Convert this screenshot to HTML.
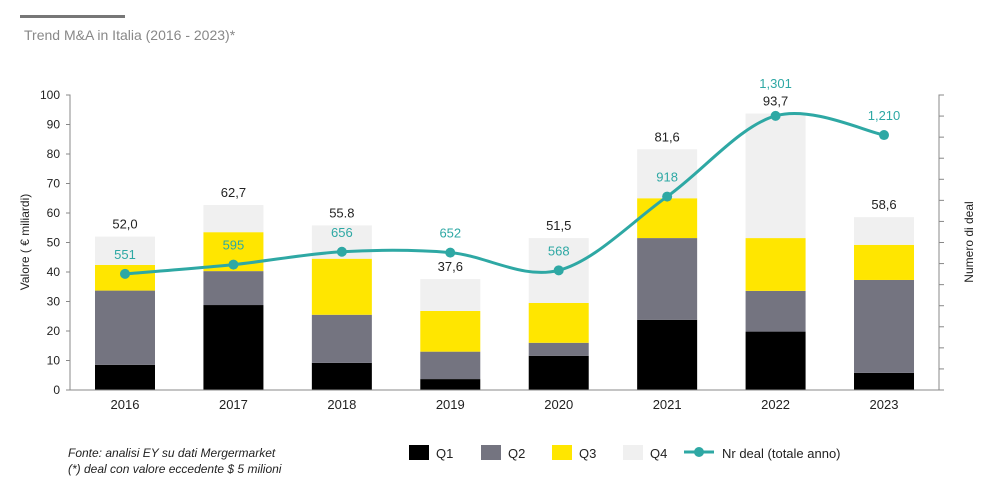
<!DOCTYPE html>
<html><head><meta charset="utf-8"><style>
body{margin:0;background:#fff;}
svg{display:block;font-family:"Liberation Sans",sans-serif;}
</style></head><body>
<svg id="chart" width="1000" height="495" viewBox="0 0 1000 495">
<rect x="20" y="15" width="105" height="3" fill="#777"/>
<text x="24" y="40" font-size="14" fill="#888">Trend M&amp;A in Italia (2016 - 2023)*</text>
<text transform="translate(29,242) rotate(-90)" text-anchor="middle" font-size="12" fill="#222">Valore ( € miliardi)</text>
<text transform="translate(973,242) rotate(-90)" text-anchor="middle" font-size="12" fill="#222">Numero di deal</text>
<g id="bars"></g><g id="axes"></g><g id="line"></g><g id="labels"></g>
<text x="68" y="457" font-size="12" font-style="italic" fill="#222">Fonte: analisi EY su dati Mergermarket</text>
<text x="68" y="473" font-size="12" font-style="italic" fill="#222">(*) deal con valore eccedente $ 5 milioni</text>
<g font-size="13" fill="#222">
<rect x="409" y="445" width="20" height="15" fill="#000"/><text x="436" y="458">Q1</text>
<rect x="481" y="445" width="20" height="15" fill="#747480"/><text x="508" y="458">Q2</text>
<rect x="552" y="445" width="20" height="15" fill="#ffe600"/><text x="579" y="458">Q3</text>
<rect x="623" y="445" width="20" height="15" fill="#f0f0f0"/><text x="650" y="458">Q4</text>
<line x1="684" y1="452" x2="714" y2="452" stroke="#2ea8a4" stroke-width="3"/><circle cx="699" cy="452" r="5" fill="#2ea8a4"/>
<text x="722" y="458">Nr deal (totale anno)</text>
</g>
</svg>
<script>
const years=["2016","2017","2018","2019","2020","2021","2022","2023"];
const q1=[8.5,28.8,9.2,3.7,11.6,23.8,19.8,5.8];
const q2=[25.2,11.5,16.3,9.3,4.4,27.7,13.8,31.5];
const q3=[8.7,13.2,19.0,13.8,13.5,13.5,17.9,11.9];
const q4=[9.6,9.2,11.3,10.8,22.0,16.6,42.2,9.4];
const totalLabels=["52,0","62,7","55.8","37,6","51,5","81,6","93,7","58,6"];
const deals=[551,595,656,652,568,918,1301,1210];
const dealLabels=["551","595","656","652","568","918","1,301","1,210"];
const yTicks=[0,10,20,30,40,50,60,70,80,90,100];
const NS="http://www.w3.org/2000/svg";
const x0=70,x1=939,yb=390,yt=95;
const xc=i=>125+i*108.43;
const y=v=>yb-(v/100)*(yb-yt);
const y2=v=>yb-(v/1400)*(yb-yt);
function mk(tag,attrs,parent){const e=document.createElementNS(NS,tag);for(const k in attrs)e.setAttribute(k,attrs[k]);parent.appendChild(e);return e;}
const gb=document.getElementById('bars'),ga=document.getElementById('axes'),gl=document.getElementById('line'),gt=document.getElementById('labels');
const series=[[q1,"#000","q1"],[q2,"#747480","q2"],[q3,"#ffe600","q3"],[q4,"#f0f0f0","q4"]];
years.forEach((yr,i)=>{
  let base=0;
  series.forEach(([arr,col,nm])=>{
    const r=mk('rect',{x:xc(i)-30,y:y(base+arr[i]),width:60,height:y(base)-y(base+arr[i]),fill:col},gb);
    
    
    base+=arr[i];
  });
  const t=mk('text',{x:xc(i),y:y(base)-8,'text-anchor':'middle','font-size':13,fill:'#222'},gt);
  t.textContent=totalLabels[i];
  
  
  const xl=mk('text',{x:xc(i),y:409,'text-anchor':'middle','font-size':13,fill:'#222'},ga);
  xl.textContent=yr;
  
  
});
let ax=mk('path',{d:`M${x0-4} ${yt}H${x0}V${yb}H${x1}V${yt}H${x1+5}`,stroke:'#888',fill:'none','stroke-width':1},ga);


yTicks.forEach(v=>{
  const l=mk('line',{x1:x0-4,x2:x0,y1:y(v),y2:y(v),stroke:'#888'},ga);
  
  
  const t=mk('text',{x:x0-10,y:y(v)+4,'text-anchor':'end','font-size':12,fill:'#222'},ga);
  t.textContent=v;
  
  
});
for(let v=0;v<=1400;v+=100){
  const l=mk('line',{x1:x1,x2:x1+5,y1:y2(v),y2:y2(v),stroke:'#888'},ga);
  
  
}
const pts=deals.map((d,i)=>[xc(i),y2(d)]);
let d=`M${pts[0][0]} ${pts[0][1]}`;
for(let i=0;i<pts.length-1;i++){
  const p0=pts[Math.max(0,i-1)],p1=pts[i],p2=pts[i+1],p3=pts[Math.min(pts.length-1,i+2)];
  d+=` C${p1[0]+(p2[0]-p0[0])/6} ${p1[1]+(p2[1]-p0[1])/6} ${p2[0]-(p3[0]-p1[0])/6} ${p2[1]-(p3[1]-p1[1])/6} ${p2[0]} ${p2[1]}`;
}
const ln=mk('path',{d:d,stroke:'#2ea8a4','stroke-width':3,fill:'none'},gl);


pts.forEach((p,i)=>{
  const c=mk('circle',{cx:p[0],cy:p[1],r:5,fill:'#2ea8a4'},gl);
  
  
  const off=(i===6)?28:15;
  const t=mk('text',{x:p[0],y:p[1]-off,'text-anchor':'middle','font-size':13,fill:'#2ea8a4'},gt);
  t.textContent=dealLabels[i];
  
  
});
</script>
</body></html>
